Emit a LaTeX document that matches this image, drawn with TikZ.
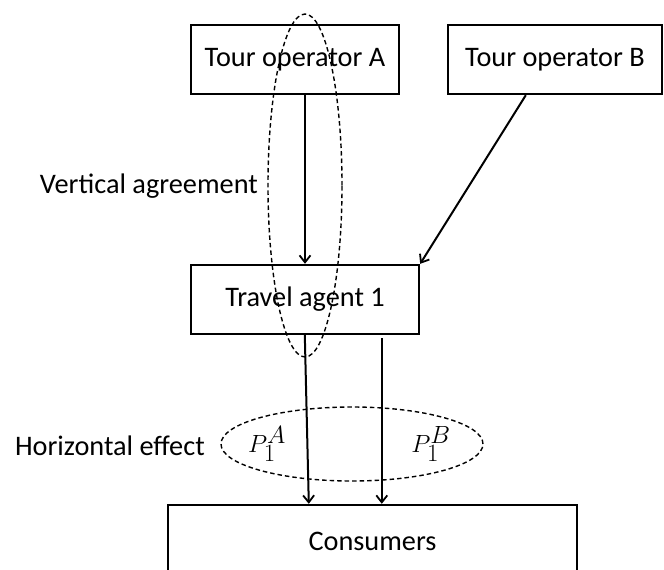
\documentclass[tikz,border=0pt]{standalone}
\usepackage{fontspec}
\setmainfont{Carlito}
\usetikzlibrary{arrows.meta,calc,shapes.geometric}
% larger script sizes for the price symbols
\DeclareMathSizes{30}{30}{24}{18}

\tikzset{
  box/.style={draw, line width=2.4pt, rectangle, inner sep=0pt, font=\fontsize{28.3}{34}\selectfont},
  flow/.style={line width=2pt, -{Straight Barb[length=7pt,width=11pt,line width=1.8pt]}},
  group/.style={draw, dashed, line width=1.4pt, dash pattern=on 4.5pt off 3pt},
  lbl/.style={inner sep=0pt, font=\fontsize{28.3}{34}\selectfont},
  mlbl/.style={inner sep=0pt, font=\fontsize{30}{34}\selectfont}
}

\begin{document}
\begin{tikzpicture}[x=1pt, y=-1pt]
  \useasboundingbox (0,0) rectangle (664,570);
  \clip (0,0) rectangle (664,570);

  % firms and customers
  \node[box, minimum width=208pt, minimum height=69pt] (opA) at (295,59.5) {Tour operator A};
  \node[box, minimum width=214pt, minimum height=69pt] (opB) at (555,59.5) {Tour operator B};
  \node[box, minimum width=228pt, minimum height=69pt] (ta) at (305,299.5) {Travel agent 1};
  \node[box, minimum width=409pt, minimum height=72pt] (cons) at (372.5,541) {Consumers};

  % supply links
  \draw[flow] (opA.south -| ta.north) -- (ta.north);
  \coordinate (bOut) at ($(opB.south west)+(79,0)$);
  \draw[flow] (bOut) -- (ta.north east);

  % retail prices to consumers
  \coordinate (pA0) at ($(ta.south west)+(115,0)$);
  \coordinate (pA1) at ($(cons.north west)+(142,0)$);
  \coordinate (pB0) at ($(ta.south west)+(192,3)$);
  \coordinate (pB1) at ($(cons.north west)+(215,0)$);
  \draw[flow] (pA0) -- (pA1);
  \draw[flow] (pB0) -- (pB1);

  % vertical agreement between A and agent 1
  \node[group, ellipse, minimum width=74pt, minimum height=343pt, inner sep=0pt] (vert) at (305,185.5) {};
  \node[lbl, anchor=east] (vlab) at (258,186) {Vertical agreement};

  % horizontal effect on the agent's prices
  \node[group, ellipse, minimum width=262pt, minimum height=74pt, inner sep=0pt] (horz) at (352,444) {};
  \node[lbl, anchor=east] (hlab) at (205,446) {Horizontal effect};
  \node[mlbl] (pa) at (267,444) {$P_1^A$};
  \node[mlbl] (pb) at (431,444) {$P_1^B$};
\end{tikzpicture}
\end{document}
